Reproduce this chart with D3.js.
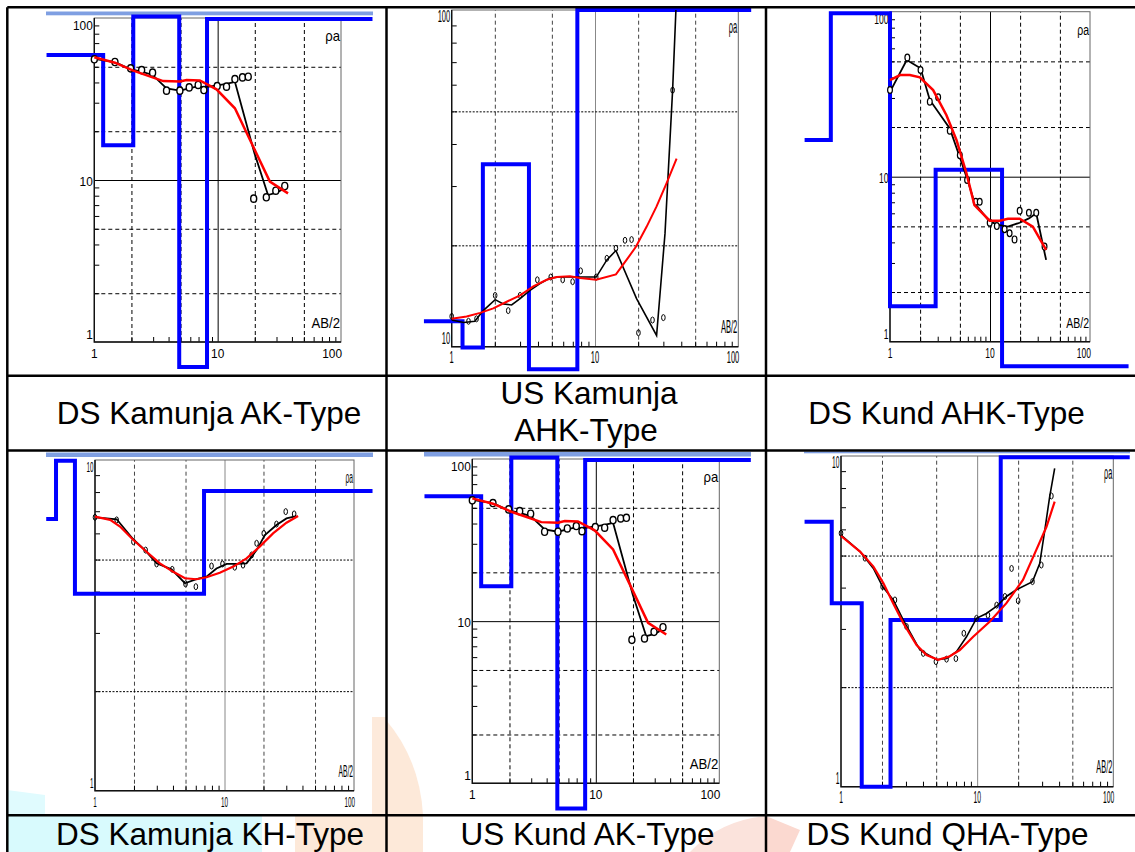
<!DOCTYPE html>
<html><head><meta charset="utf-8">
<script src="https://cdn.jsdelivr.net/npm/d3@7"></script>
<style>body{margin:0;background:#fff}text{font-family:"Liberation Sans",Arial,sans-serif;fill:#000}</style>
</head><body><svg id="c" width="1135" height="852"></svg>
<script>
// ---------------- DATA ----------------
// shared tick labels
const xTickLabels = ["1", "10", "100"];
const yTickLabels100 = ["1", "10", "100"];
const yTickLabels10_100 = ["10", "100"];
const yTickLabels1_10 = ["1", "10"];
const captions = ["DS Kamunja AK-Type", "US Kamunja|AHK-Type", "DS Kund AHK-Type",
                  "DS Kamunja KH-Type", "US Kund AK-Type", "DS Kund QHA-Type"];

// AK-type sounding (top-left and bottom-middle panels)
const akModelDepth = [0.41, 1.18, 2.07, 4.88, 8.2, 180];
const akModelRho   = [59, 16.4, 102, 0.70, 98.6];
const akFieldX   = [1.0, 1.47, 1.97, 2.42, 2.97, 3.85, 4.94, 5.88, 6.95, 7.73, 9.91, 11.8, 13.8, 19.9, 25.6, 30, 36];
const akFieldRho = [56, 53.5, 48.2, 46.6, 44.5, 36.8, 35.6, 36.8, 38.0, 37.3, 38.4, 39.2, 40.4, 14.6, 8.08, 8.35, 9.0];
const akObsX   = [1.0, 1.47, 1.97, 2.42, 2.97, 3.85, 4.94, 5.88, 6.95, 7.73, 9.91, 11.8, 13.8, 15.9, 17.7, 19.6, 24.8, 29.6, 35.0];
const akObsRho = [55.6, 53.5, 48.9, 47.7, 46.0, 35.6, 35.6, 37.3, 38.6, 35.9, 38.0, 37.7, 42.0, 43.0, 43.4, 7.67, 7.82, 8.59, 9.18];
const akCalcX   = [1, 1.47, 2.07, 3.62, 4.94, 5.6, 7.17, 9.79, 13.8, 19.4, 26.5, 37.2];
const akCalcRho = [57.2, 53.0, 47.3, 40.8, 40.5, 41.4, 41.2, 36.3, 27.7, 16.1, 9.77, 8.27];

// US Kamunja AHK-type
const usAhkModelDepth = [0.64, 1.19, 1.65, 3.46, 7.53, 123];
const usAhkModelRho   = [11.9, 9.95, 34.8, 8.57, 100];
const usAhkFieldX   = [1, 1.21, 1.45, 1.66, 2.01, 2.29, 2.62, 3.0, 3.52, 4.13, 4.85, 5.70, 7.06, 10.2, 12.1, 14.0, 19.5, 26.9, 30.8, 34.8, 36.7];
const usAhkFieldRho = [12.0, 11.8, 11.9, 12.8, 13.8, 13.4, 13.3, 13.9, 14.7, 15.4, 16.0, 16.1, 16.1, 16.1, 18.1, 19.3, 13.9, 10.8, 21.7, 57.8, 100];
const usAhkObsX   = [1, 1.31, 1.49, 2.01, 2.48, 3.0, 3.96, 4.91, 5.95, 6.98, 7.94, 10.2, 12.1, 14.0, 16.2, 18.0, 20.1, 25.2, 30.0, 34.8];
const usAhkObsRho = [12.3, 11.9, 12.1, 14.2, 12.8, 14.2, 15.8, 16.1, 15.8, 15.6, 16.8, 16.1, 18.3, 19.6, 20.7, 20.8, 11.0, 12.0, 12.2, 57.8];
const usAhkCalcX   = [1, 1.27, 1.58, 1.95, 2.42, 3.0, 3.71, 4.60, 5.40, 6.69, 7.86, 10.2, 14.0, 16.6, 19.3, 22.9, 26.9, 31.6, 37.1];
const usAhkCalcRho = [12.1, 12.3, 12.6, 13.0, 13.6, 14.2, 15.1, 15.8, 16.1, 16.2, 16.0, 15.8, 16.4, 18.1, 19.8, 22.7, 26.1, 30.6, 36.2];

// DS Kund AHK-type
const dsAhkModelDepth = [0.14, 0.256, 1, 2.86, 13.2, 243];
const dsAhkModelRho   = [16.7, 98, 1.64, 11.0, 0.71];
const dsAhkFieldX   = [1, 1.47, 2.02, 2.50, 3.96, 4.91, 6.04, 7.03, 9.93, 12.5, 15.1, 19.8, 24.5, 29.0, 36.4];
const dsAhkFieldRho = [32.7, 50.9, 45.4, 29.2, 19.6, 13.5, 9.33, 6.89, 5.34, 5.09, 4.98, 5.26, 5.59, 6.0, 3.13];
const dsAhkObsX   = [1, 1.49, 2.02, 2.50, 3.03, 3.96, 4.99, 5.90, 7.20, 7.89, 9.93, 11.7, 14.0, 15.7, 17.6, 19.8, 24.5, 29.0, 35.1];
const dsAhkObsRho = [33.5, 52.8, 44.3, 28.5, 30.3, 19.0, 13.5, 9.54, 7.05, 7.05, 5.26, 5.02, 4.80, 4.54, 4.17, 6.22, 6.05, 6.05, 3.77];
const dsAhkCalcX   = [1, 1.26, 1.58, 1.99, 2.70, 3.67, 4.62, 5.81, 6.99, 9.93, 12.5, 15.1, 19.8, 26.8, 36.4];
const dsAhkCalcRho = [38.5, 41.3, 41.3, 40.0, 33.5, 23.6, 16.7, 10.5, 6.73, 5.41, 5.41, 5.56, 5.56, 4.98, 3.60];

// DS Kamunja KH-type
const khModelDepth = [0.42, 0.50, 0.70, 6.95, 139];
const khModelRho   = [6.63, 9.94, 3.94, 8.06];
const khFieldX   = [1, 1.23, 1.47, 1.98, 2.43, 2.99, 3.90, 4.95, 6.08, 7.26, 8.67, 10.4, 12.4, 14.8, 17.7, 20.5, 25.2, 30.1, 35.9];
const khFieldRho = [6.71, 6.66, 6.62, 5.75, 5.34, 4.87, 4.67, 4.24, 4.36, 4.44, 4.70, 4.85, 4.85, 4.87, 5.34, 5.93, 6.36, 6.66, 6.77];
const khObsX   = [1, 1.47, 1.98, 2.46, 2.99, 3.95, 5.0, 6.01, 7.94, 9.65, 12.0, 13.9, 16.2, 17.7, 20.1, 25.2, 29.7, 34.5];
const khObsRho = [6.71, 6.59, 5.66, 5.34, 4.85, 4.67, 4.22, 4.14, 4.78, 4.85, 4.74, 4.81, 5.16, 5.60, 6.0, 6.40, 6.98, 6.87];
const khCalcX   = [1, 1.31, 1.56, 1.98, 2.50, 3.17, 4.02, 4.95, 6.08, 7.26, 9.20, 11.7, 14.8, 18.7, 23.7, 30.1, 37.0];
const khCalcRho = [6.74, 6.59, 6.29, 5.73, 5.28, 4.87, 4.59, 4.39, 4.36, 4.42, 4.56, 4.76, 5.04, 5.47, 6.0, 6.46, 6.77];

// DS Kund QHA-type
const qhaModelDepth = [0.54, 0.855, 1.42, 2.31, 14.9, 132];
const qhaModelRho   = [6.33, 3.59, 1.0, 3.19, 9.91];
const qhaFieldX   = [1, 1.38, 1.73, 2.02, 2.42, 2.87, 3.80, 5.03, 5.96, 7.05, 8.35, 9.89, 11.7, 14.0, 16.4, 19.4, 25.5, 28.8, 31.4, 34.1, 37.1];
const qhaFieldRho = [5.77, 5.14, 4.57, 4.03, 3.67, 3.19, 2.59, 2.42, 2.44, 2.56, 2.84, 3.23, 3.34, 3.52, 3.76, 3.94, 4.17, 4.73, 5.97, 7.54, 9.18];
const qhaObsX   = [1, 1.50, 2.02, 2.49, 3.03, 4.02, 4.98, 5.96, 6.98, 7.98, 9.89, 12.0, 13.9, 16.0, 17.9, 20.0, 25.5, 29.6, 35.1];
const qhaObsRho = [5.84, 4.91, 4.03, 3.67, 3.05, 2.53, 2.39, 2.43, 2.44, 2.91, 3.23, 3.30, 3.54, 3.76, 4.57, 3.65, 4.17, 4.68, 7.57];
const qhaCalcX   = [1, 1.38, 1.73, 2.05, 2.42, 2.87, 3.59, 4.25, 5.17, 6.30, 7.46, 9.35, 12.4, 16.4, 21.7, 27.2, 32.3, 37.1];
const qhaCalcRho = [5.73, 5.14, 4.63, 4.12, 3.58, 3.12, 2.68, 2.50, 2.42, 2.48, 2.59, 2.84, 3.16, 3.59, 4.22, 5.20, 6.11, 7.28];

// ---------------- DRAW ----------------
const svg = d3.select("#c");
const BLUE = "#0000ff", LIGHTBLUE = "#7f9fe2";

// background watermark tints
const bg = svg.append("g");
bg.append("rect").attr("x", 7).attr("y", 816).attr("width", 255).attr("height", 36).attr("fill", "#d8fafd");
bg.append("path").attr("d", "M7,815 L7,790 L45,795 L45,815 Z").attr("fill", "#e0fbfe");
bg.append("rect").attr("x", 295).attr("y", 816).attr("width", 91).attr("height", 36).attr("fill", "#fde9d9");
bg.append("rect").attr("x", 372).attr("y", 717).attr("width", 14).attr("height", 98).attr("fill", "#fdeadb");
bg.append("path").attr("d", "M386,720 Q420,760 423,815 L423,852 L386,852 Z").attr("fill", "#fde9d9");
bg.append("path").attr("d", "M690,852 Q720,820 766,816 L766,852 Z").attr("fill", "#fbe3dc");
bg.append("path").attr("d", "M766,816 L800,830 L790,852 L766,852 Z").attr("fill", "#fbd9d0");

function decades(dom) {
  const out = [];
  for (let e = Math.floor(Math.log10(dom[0])); e < Math.ceil(Math.log10(dom[1])); e++)
    for (let k = 2; k <= 9; k++) { const v = k * Math.pow(10, e); if (v > dom[0] && v < dom[1]) out.push(v); }
  return out;
}

function label(g, x, y, s, size, sx, anchor) {
  g.append("text").attr("transform", `translate(${x},${y}) scale(${sx},1)`)
    .attr("text-anchor", anchor).attr("font-size", size).text(s);
}

function drawPanel(p) {
  const g = svg.append("g");
  const x = d3.scaleLog().domain([1, 100]).range([p.x1, p.x100]);
  const y = d3.scaleLog().domain(p.yDomain).range([p.yBot, p.yTop]);
  const h = p.yBot - p.yTop, w = p.x100 - p.x1;

  // decorative light-blue band
  if (p.band) g.append("rect").attr("x", p.band[0]).attr("y", p.band[1]).attr("width", p.band[2])
      .attr("height", p.band[3]).attr("fill", LIGHTBLUE);

  // vertical grid
  const gx = g.append("g").attr("transform", `translate(0,${p.yBot})`)
    .call(d3.axisBottom(x).tickValues([2, 5, 20, 50]).tickSize(-h).tickFormat(""));
  gx.select(".domain").remove();
  gx.selectAll("line").attr("stroke", p.vColor).attr("stroke-dasharray", "4,3");
  const gx10 = g.append("g").attr("transform", `translate(0,${p.yBot})`)
    .call(d3.axisBottom(x).tickValues([10]).tickSize(-h).tickFormat(""));
  gx10.select(".domain").remove();
  gx10.selectAll("line").attr("stroke", p.tenColor);

  // horizontal grid
  const gy = g.append("g").attr("transform", `translate(${p.x1},0)`)
    .call(d3.axisLeft(y).tickValues(p.hGrid).tickSize(-w).tickFormat(""));
  gy.select(".domain").remove();
  gy.selectAll("line").attr("stroke", "#000").attr("stroke-dasharray", p.hDash);
  if (p.hTen) {
    const gy10 = g.append("g").attr("transform", `translate(${p.x1},0)`)
      .call(d3.axisLeft(y).tickValues([10]).tickSize(-w).tickFormat(""));
    gy10.select(".domain").remove();
    gy10.selectAll("line").attr("stroke", "#000");
  }

  // minor ticks
  const mx = g.append("g").attr("transform", `translate(0,${p.yBot})`)
    .call(d3.axisBottom(x).tickValues(decades([1, 100])).tickSize(-5).tickFormat(""));
  mx.select(".domain").remove(); mx.selectAll("line").attr("stroke", "#000");
  const my = g.append("g").attr("transform", `translate(${p.x1},0)`)
    .call(d3.axisLeft(y).tickValues(decades(p.yDomain)).tickSize(-5).tickFormat(""));
  my.select(".domain").remove(); my.selectAll("line").attr("stroke", "#000");

  // frame
  g.append("rect").attr("x", p.x1).attr("y", p.yTop).attr("width", w).attr("height", h)
    .attr("fill", "none").attr("stroke", "#666").attr("stroke-width", 1);
  g.append("path").attr("d", `M${p.x1},${p.yTop}V${p.yBot}H${p.x100}`)
    .attr("fill", "none").attr("stroke", "#111").attr("stroke-width", 1.4);

  // tick labels
  xTickLabels.forEach((s, i) => {
    const v = +s;
    const last = i === xTickLabels.length - 1;
    label(g, last ? x(v) + 1 : x(v), p.yBot + 16, s, p.fs, p.sx, last ? "end" : "middle");
  });
  p.yLabels.forEach((s, i) => {
    const v = +s;
    const dy = i === 0 ? -3 : (i === p.yLabels.length - 1 ? 12 : 6);
    label(g, p.x1 - 1.5, y(v) + dy, s, p.fs, p.sx, "end");
  });
  label(g, p.x100 - 1, p.yTop + 23, "ρa", p.fs2, p.sx2, "end");
  label(g, p.x100 - 1, p.yBot - 14, "AB/2", p.fs2, p.sx2, "end");

  // blue layered model
  const pts = [];
  p.modelRho.forEach((r, i) => { pts.push([p.modelDepth[i], r]); pts.push([p.modelDepth[i + 1], r]); });
  const line = d3.line().x(d => x(d[0])).y(d => y(d[1]));
  g.append("path").attr("d", line(pts)).attr("fill", "none").attr("stroke", BLUE)
    .attr("stroke-width", 4).attr("stroke-linejoin", "miter");

  // black field curve
  g.append("path").attr("d", line(p.fieldX.map((v, i) => [v, p.fieldRho[i]])))
    .attr("fill", "none").attr("stroke", "#000").attr("stroke-width", p.blackW);

  // measured points
  g.selectAll(null).data(p.obsX.map((v, i) => [v, p.obsRho[i]])).join("ellipse")
    .attr("cx", d => x(d[0])).attr("cy", d => y(d[1])).attr("rx", p.rx).attr("ry", p.ry)
    .attr("fill", p.circFill).attr("stroke", "#000").attr("stroke-width", p.circW);

  // red calculated curve
  g.append("path").attr("d", line(p.calcX.map((v, i) => [v, p.calcRho[i]])))
    .attr("fill", "none").attr("stroke", "#ff0000").attr("stroke-width", p.redW);
}

const panels = [
  {x1: 94.3, x100: 341, yTop: 18, yBot: 342, yDomain: [1, 100], yLabels: yTickLabels100,
   band: [46, 11.5, 327, 3.8], vColor: "#000", tenColor: "#000", hGrid: [2, 5, 20, 50], hDash: "4,3", hTen: true,
   fs: 13.5, sx: 0.88, fs2: 14, sx2: 0.94, rx: 3, ry: 3.6, circW: 1.4, circFill: "#fff", blackW: 1.8, redW: 2.5,
   modelDepth: akModelDepth, modelRho: akModelRho, fieldX: akFieldX, fieldRho: akFieldRho,
   obsX: akObsX, obsRho: akObsRho, calcX: akCalcX, calcRho: akCalcRho},
  {x1: 451.7, x100: 738.3, yTop: 10, yBot: 346.7, yDomain: [10, 100], yLabels: yTickLabels10_100,
   band: null, vColor: "#444", tenColor: "#888", hGrid: [20, 50], hDash: "2,1.5", hTen: false,
   fs: 16, sx: 0.47, fs2: 18, sx2: 0.42, rx: 1.8, ry: 3, circW: 1, circFill: "none", blackW: 1.6, redW: 2,
   modelDepth: usAhkModelDepth, modelRho: usAhkModelRho, fieldX: usAhkFieldX, fieldRho: usAhkFieldRho,
   obsX: usAhkObsX, obsRho: usAhkObsRho, calcX: usAhkCalcX, calcRho: usAhkCalcRho},
  {x1: 890, x100: 1090, yTop: 11.7, yBot: 341.7, yDomain: [1, 100], yLabels: yTickLabels100,
   band: null, vColor: "#000", tenColor: "#000", hGrid: [2, 5, 20, 50], hDash: "4,3", hTen: true,
   fs: 15.5, sx: 0.55, fs2: 15.5, sx2: 0.68, rx: 2.4, ry: 3.4, circW: 1.2, circFill: "#fff", blackW: 1.8, redW: 2.5,
   modelDepth: dsAhkModelDepth, modelRho: dsAhkModelRho, fieldX: dsAhkFieldX, fieldRho: dsAhkFieldRho,
   obsX: dsAhkObsX, obsRho: dsAhkObsRho, calcX: dsAhkCalcX, calcRho: dsAhkCalcRho},
  {x1: 95, x100: 354, yTop: 460, yBot: 790.7, yDomain: [1, 10], yLabels: yTickLabels1_10,
   band: [46, 452.5, 327, 4.5], vColor: "#444", tenColor: "#888", hGrid: [2, 5], hDash: "2,1.5", hTen: false,
   fs: 15, sx: 0.42, fs2: 16, sx2: 0.42, rx: 1.8, ry: 3, circW: 1, circFill: "none", blackW: 1.8, redW: 2.2,
   modelDepth: khModelDepth, modelRho: khModelRho, fieldX: khFieldX, fieldRho: khFieldRho,
   obsX: khObsX, obsRho: khObsRho, calcX: khCalcX, calcRho: khCalcRho},
  {x1: 472.3, x100: 719.3, yTop: 459, yBot: 783.3, yDomain: [1, 100], yLabels: yTickLabels100,
   band: [424, 452, 327, 4.5], vColor: "#000", tenColor: "#000", hGrid: [2, 5, 20, 50], hDash: "4,3", hTen: true,
   fs: 13.5, sx: 0.88, fs2: 14, sx2: 0.94, rx: 3, ry: 3.6, circW: 1.4, circFill: "#fff", blackW: 1.8, redW: 2.5,
   modelDepth: akModelDepth, modelRho: akModelRho, fieldX: akFieldX, fieldRho: akFieldRho,
   obsX: akObsX, obsRho: akObsRho, calcX: akCalcX, calcRho: akCalcRho},
  {x1: 841, x100: 1113.3, yTop: 456, yBot: 786.7, yDomain: [1, 10], yLabels: yTickLabels1_10,
   band: [804, 451.5, 326, 1.8], vColor: "#444", tenColor: "#888", hGrid: [2, 5], hDash: "2,1.5", hTen: false,
   fs: 16, sx: 0.42, fs2: 18, sx2: 0.41, rx: 1.8, ry: 3, circW: 1, circFill: "none", blackW: 1.6, redW: 2.2,
   modelDepth: qhaModelDepth, modelRho: qhaModelRho, fieldX: qhaFieldX, fieldRho: qhaFieldRho,
   obsX: qhaObsX, obsRho: qhaObsRho, calcX: qhaCalcX, calcRho: qhaCalcRho}
];
panels.forEach(drawPanel);

// table borders
const tb = svg.append("g").attr("stroke", "#000").attr("stroke-width", 2.5);
[[7.3, 7.3, 1135, 7.3], [7.3, 7.3, 7.3, 852], [386.5, 7.3, 386.5, 852], [766, 7.3, 766, 852],
 [7.3, 375.7, 1135, 375.7], [7.3, 450.5, 1135, 450.5], [7.3, 815.3, 1135, 815.3]]
  .forEach(l => tb.append("line").attr("x1", l[0]).attr("y1", l[1]).attr("x2", l[2]).attr("y2", l[3]));

// captions
const capPos = [[209, 424.3], [589, 403.7], [946.5, 424.3], [210, 845.3], [587.5, 845.3], [947.5, 845.3]];
captions.forEach((c, i) => {
  const lines = c.split("|");
  lines.forEach((s, j) => {
    svg.append("text").attr("x", capPos[i][0] - (j ? 3 : 0)).attr("y", capPos[i][1] + j * 37.3)
      .attr("text-anchor", "middle").attr("font-size", 31.5).text(s);
  });
});
</script></body></html>
